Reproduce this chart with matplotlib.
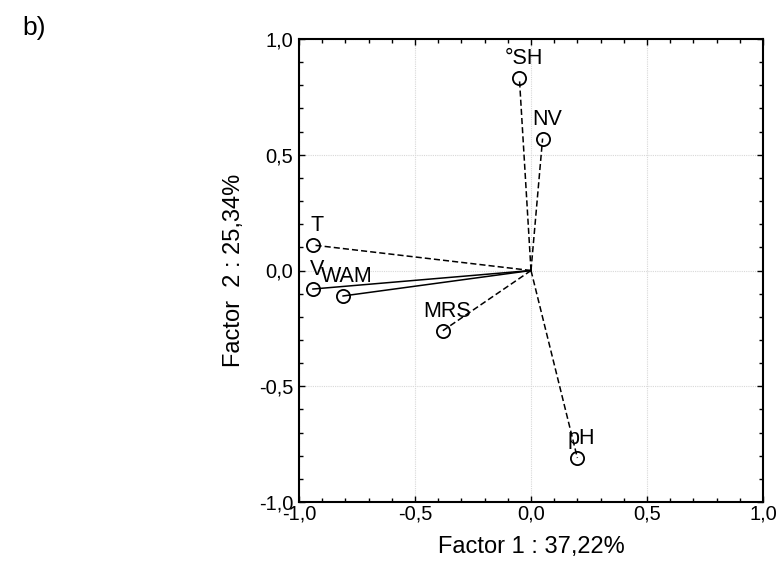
import matplotlib
matplotlib.use('Agg')
import matplotlib.pyplot as plt
from matplotlib.ticker import MultipleLocator, FuncFormatter

plt.rcParams['font.family'] = ['Liberation Sans', 'DejaVu Sans']

#%% loadings
names = ['°SH', 'NV', 'T', 'V', 'WAM', 'MRS', 'pH']
f1 = [-0.05, 0.05, -0.94, -0.94, -0.81, -0.38, 0.20]
f2 = [0.83, 0.57, 0.11, -0.08, -0.11, -0.26, -0.81]
dashed = [True, True, True, False, False, True, True]

xlab = 'Factor 1 : 37,22%'
ylab = 'Factor  2 : 25,34%'

def comma(v, pos):
    return ('%.1f' % v).replace('.', ',')

fig = plt.figure(figsize=(7.79, 5.67), dpi=100)
ax = fig.add_axes([299/779, 1-502/567, 464/779, 463/567])

for x, y, nm, d in zip(f1, f2, names, dashed):
    ls = (0, (4, 2)) if d else '-'
    ax.plot([0, x], [0, y], color='black', lw=1.1, ls=ls, zorder=3)
    ax.plot(x, y, 'o', mfc='none', mec='black', ms=9.5, mew=1.3, zorder=4)
    ax.annotate(nm, (x, y), xytext=(3, 14), textcoords='offset points',
                ha='center', va='center', fontsize=15.5, zorder=5)

ax.set_xlim(-1, 1)
ax.set_ylim(-1, 1)
ax.xaxis.set_major_locator(MultipleLocator(0.5))
ax.yaxis.set_major_locator(MultipleLocator(0.5))
ax.xaxis.set_minor_locator(MultipleLocator(0.1))
ax.yaxis.set_minor_locator(MultipleLocator(0.1))
ax.xaxis.set_major_formatter(FuncFormatter(comma))
ax.yaxis.set_major_formatter(FuncFormatter(comma))
ax.tick_params(which='both', direction='in', top=True, right=True, labelsize=14.5)
ax.tick_params(which='major', length=4, width=1)
ax.tick_params(which='minor', length=3, width=1)
ax.tick_params(axis='x', pad=2)
ax.tick_params(axis='y', pad=4)
ax.grid(True, which='major', color='#d8d8d8', lw=0.8, ls=(0, (1, 1)))
for s in ax.spines.values():
    s.set_linewidth(1.5)

ax.set_xlabel(xlab, fontsize=17, labelpad=9)
ax.set_ylabel(ylab, fontsize=17, labelpad=10)
fig.text(22/779, 1-28/567, 'b)', fontsize=19, ha='left', va='center')

fig.savefig('out.png', dpi=100)
